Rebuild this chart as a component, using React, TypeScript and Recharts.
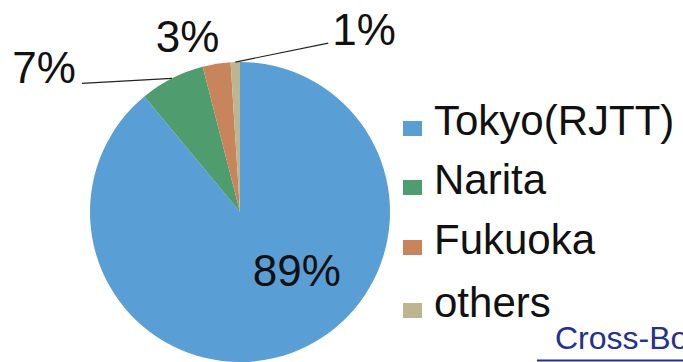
import React, { ReactElement } from "react";
import { Cell, Pie, PieChart } from "recharts";

const airports = ["Tokyo(RJTT)", "Narita", "Fukuoka", "others"];
const shares = [89, 7, 3, 1];
const colors = ["#5A9ED6", "#4F9D6F", "#C8845B", "#BDB58F"];

const data = airports.map((name, i) => ({ name, value: shares[i] }));

const FONT = '"Liberation Sans", Arial, sans-serif';

// label placement relative to the outer midpoint of each slice
const labelLayout = [
  { dx: 6, dy: -67, anchor: "middle", line: null },
  { dx: -96, dy: 5, anchor: "end", line: [-90, 5] },
  { dx: -29, dy: -12, anchor: "middle", line: null },
  { dx: 97, dy: -17, anchor: "start", line: [93, -19] },
];

const RAD = Math.PI / 180;

function renderLabel(props: any) {
  const { cx, cy, midAngle, outerRadius, index, value } = props;
  const px = cx + outerRadius * Math.cos(-midAngle * RAD);
  const py = cy + outerRadius * Math.sin(-midAngle * RAD);
  const l = labelLayout[index];
  return (
    <g key={`lbl-${index}`}>
      {l.line && (
        <line
          x1={px}
          y1={py}
          x2={px + l.line[0]}
          y2={py + l.line[1]}
          stroke="#222"
          strokeWidth={1.2}
        />
      )}
      <text
        x={px + l.dx}
        y={py + l.dy}
        textAnchor={l.anchor}
        fontSize={44}
        fontFamily={FONT}
        fill="#111"
      >
        {value}%
      </text>
    </g>
  );
}

const legendBaselines = [135, 194, 254, 317];

export default function App(): ReactElement {
  return (
    <div style={{ position: "absolute", left: 0, top: 0, width: 683, height: 362, background: "#fff", overflow: "hidden" }}>
      <PieChart width={683} height={362} margin={{ top: 0, right: 0, bottom: 0, left: 0 }}>
        <Pie
          data={data}
          dataKey="value"
          nameKey="name"
          cx={240}
          cy={212}
          outerRadius={150}
          startAngle={90}
          endAngle={-270}
          stroke="none"
          label={renderLabel}
          labelLine={false}
          isAnimationActive={false}
        >
          {data.map((entry, index) => (
            <Cell key={`cell-${index}`} fill={colors[index]} />
          ))}
        </Pie>
      </PieChart>
      <svg width={683} height={362} style={{ position: "absolute", left: 0, top: 0, pointerEvents: "none" }}>
        {airports.map((name, i) => (
          <g key={name}>
            <rect x={403} y={legendBaselines[i] - 14} width={19} height={15} fill={colors[i]} />
            <text x={434} y={legendBaselines[i]} fontSize={42} fontFamily={FONT} fill="#111">
              {name}
            </text>
          </g>
        ))}
        <text x={555} y={349} fontSize={32} fontFamily={FONT} fill="#25308F">
          Cross-Bo
        </text>
        <line x1={537} y1={360.5} x2={683} y2={360.5} stroke="#25308F" strokeWidth={2} />
      </svg>
    </div>
  );
}
